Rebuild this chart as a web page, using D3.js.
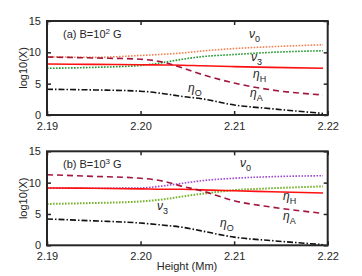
<!DOCTYPE html>
<html>
<head>
<meta charset="utf-8">
<script src="https://cdn.jsdelivr.net/npm/d3@7"></script>
<style>
  body { margin: 0; background: #fff; }
  text { font-family: "Liberation Sans", Arial, sans-serif; fill: #262626; }
</style>
</head>
<body>
<div class="chart"></div>
<script>
// heights (Mm)
var heights = [2.19, 2.195, 2.20, 2.2025, 2.2045, 2.2065, 2.21, 2.214, 2.2195];

// panel (a) B=10^2 G
var nu0A  = [9.3, 9.2, 9.5, 9.7, 9.9, 10.2, 10.6, 10.9, 11.2];
var nu3A  = [7.45, 7.6, 7.9, 8.4, 8.9, 9.3, 9.65, 10.0, 10.25];
var etaHA = [8.13, 8.08, 8.02, 7.98, 7.95, 7.85, 7.72, 7.6, 7.45];
var etaAA = [9.25, 9.1, 8.9, 8.4, 7.5, 6.5, 5.1, 4.0, 3.2];
var etaOA = [4.1, 4.0, 3.8, 3.4, 2.95, 2.6, 1.6, 1.0, 0.25];

// panel (b) B=10^3 G
var nu0B  = [9.15, 9.1, 9.15, 9.5, 9.9, 10.3, 10.7, 10.95, 11.1];
var nu3B  = [6.6, 6.75, 7.0, 7.35, 7.8, 8.2, 8.8, 9.1, 9.4];
var etaHB = [9.15, 9.1, 9.0, 8.95, 8.95, 8.85, 8.7, 8.55, 8.35];
var etaAB = [11.26, 11.0, 10.7, 10.2, 9.4, 8.7, 7.1, 6.1, 5.1];
var etaOB = [4.2, 3.9, 3.55, 3.2, 2.87, 2.3, 1.3, 0.75, 0.1];

var xTicks = [2.19, 2.20, 2.21, 2.22];
var yTicks = [0, 5, 10, 15];

var width = 362, height = 276;
var left = 47, right = 327.7;

var svg = d3.select('.chart')
  .append('svg')
  .attr('width', width)
  .attr('height', height);

var xScale = d3.scaleLinear()
  .domain([2.19, 2.22])
  .range([left, right]);

var panels = [
  { top: 21, bottom: 115, tag: '(a) B=10', exp: '2',
    series: [
      { v: nu0A, color: '#f08050', dash: '1.6,1.4', w: 1.6 },
      { v: nu3A, color: '#1f9a2a', dash: '1.6,1.4', w: 1.6 },
      { v: etaHA, color: '#ff1010', dash: null, w: 1.6 },
      { v: etaAA, color: '#a3173f', dash: '6,4', w: 1.6 },
      { v: etaOA, color: '#111', dash: '6,2,1.5,2', w: 1.6 }
    ],
    labels: [
      { g: 'ν', s: '0', x: 249, y: 38 },
      { g: 'ν', s: '3', x: 251, y: 61 },
      { g: 'η', s: 'H', x: 253, y: 78 },
      { g: 'η', s: 'A', x: 250, y: 97 },
      { g: 'η', s: 'O', x: 188, y: 92 }
    ] },
  { top: 151.3, bottom: 245.3, tag: '(b) B=10', exp: '3',
    series: [
      { v: nu0B, color: '#a048d0', dash: '1.6,1.4', w: 1.6 },
      { v: nu3B, color: '#78b42c', dash: '1.6,1.4', w: 2 },
      { v: etaHB, color: '#ff1010', dash: null, w: 1.6 },
      { v: etaAB, color: '#a3173f', dash: '6,4', w: 1.6 },
      { v: etaOB, color: '#111', dash: '6,2,1.5,2', w: 1.6 }
    ],
    labels: [
      { g: 'ν', s: '0', x: 240, y: 167 },
      { g: 'ν', s: '3', x: 157, y: 210 },
      { g: 'η', s: 'H', x: 283, y: 200 },
      { g: 'η', s: 'A', x: 283, y: 220 },
      { g: 'η', s: 'O', x: 220, y: 227 }
    ] }
];

panels.forEach(function(p) {
  var yScale = d3.scaleLinear()
    .domain([0, 15])
    .range([p.bottom, p.top]);

  var g = svg.append('g');

  // lines
  var line = d3.line()
    .x(function(d, i) { return xScale(heights[i]); })
    .y(function(d) { return yScale(d); })
    .curve(d3.curveMonotoneX);

  p.series.forEach(function(s) {
    g.append('path')
      .datum(s.v)
      .attr('d', line)
      .attr('fill', 'none')
      .attr('stroke', s.color)
      .attr('stroke-width', s.w)
      .attr('stroke-dasharray', s.dash);
  });

  // axes with inward ticks
  var xAxis = d3.axisBottom(xScale).tickValues(xTicks).tickFormat(d3.format('.2f')).tickSize(-4).tickPadding(7);
  var xTop = d3.axisTop(xScale).tickValues(xTicks).tickFormat('').tickSize(-4);
  var yAxis = d3.axisLeft(yScale).tickValues(yTicks).tickSize(-4).tickPadding(6);
  var yRight = d3.axisRight(yScale).tickValues(yTicks).tickFormat('').tickSize(-4);

  var ax = [
    g.append('g').attr('transform', 'translate(0,' + p.bottom + ')').call(xAxis),
    g.append('g').attr('transform', 'translate(0,' + p.top + ')').call(xTop),
    g.append('g').attr('transform', 'translate(' + left + ',0)').call(yAxis),
    g.append('g').attr('transform', 'translate(' + right + ',0)').call(yRight)
  ];
  ax.forEach(function(a) {
    a.select('.domain').remove();
    a.selectAll('line').attr('stroke', '#262626').attr('stroke-width', 1.5);
    a.selectAll('text').attr('font-size', 11).attr('fill', '#262626')
      .style('font-family', '"Liberation Sans", Arial, sans-serif');
  });

  // frame
  g.append('rect')
    .attr('x', left)
    .attr('y', p.top)
    .attr('width', right - left)
    .attr('height', p.bottom - p.top)
    .attr('fill', 'none')
    .attr('stroke', '#262626')
    .attr('stroke-width', 2);

  // y label
  g.append('text')
    .attr('transform', 'translate(27,' + ((p.top + p.bottom) / 2) + ') rotate(-90)')
    .attr('text-anchor', 'middle')
    .attr('font-size', 11)
    .text('log10(X)');

  // panel tag
  var t = g.append('text')
    .attr('x', 63)
    .attr('y', p.top + 17)
    .attr('font-size', 11);
  t.append('tspan').text(p.tag);
  t.append('tspan').attr('dy', -4).attr('font-size', 8).text(p.exp);
  t.append('tspan').attr('dy', 4).text(' G');

  // curve labels
  p.labels.forEach(function(l) {
    var lt = g.append('text')
      .attr('x', l.x)
      .attr('y', l.y)
      .attr('font-size', 12)
      .attr('font-style', 'italic');
    lt.append('tspan').text(l.g);
    lt.append('tspan').attr('dy', 4).attr('font-size', 9).attr('font-style', 'normal').text(l.s);
  });
});

// x label
svg.append('text')
  .attr('x', 187)
  .attr('y', 270)
  .attr('text-anchor', 'middle')
  .attr('font-size', 11)
  .text('Height (Mm)');
</script>
</body>
</html>
